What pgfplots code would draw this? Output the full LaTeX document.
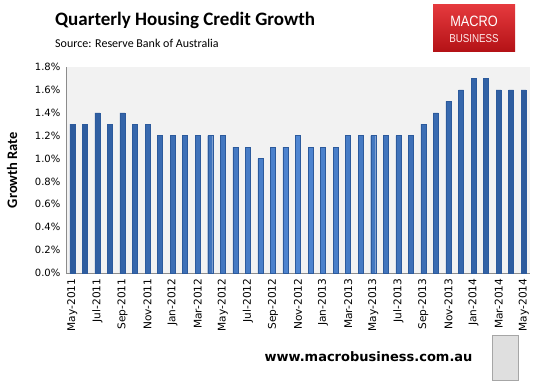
\documentclass[border=0pt]{standalone}
\usepackage{pgfplots}
\pgfplotsset{compat=1.18}
\usepackage{fontspec}
\setmainfont{DejaVu Sans}
\newfontfamily\calfont{Carlito}
\newfontfamily\libfont{Liberation Sans}
\definecolor{barmid}{HTML}{4F86D2}
\definecolor{baredge}{HTML}{2C5A9C}
\definecolor{plotbg}{HTML}{F2F2F2}
\definecolor{axgray}{HTML}{8C8C8C}
\definecolor{mbred}{HTML}{E0161B}
\begin{document}
\begin{tikzpicture}
\path[use as bounding box] (0pt,0pt) rectangle (546pt,383pt);
% title
\node[anchor=base west,font=\calfont\bfseries\fontsize{19}{21}\selectfont,inner sep=0] at (55pt,357pt) {Quarterly Housing Credit Growth};
\node[anchor=base west,font=\calfont\fontsize{12}{13}\selectfont,inner sep=0] at (55pt,335pt) {Source: Reserve Bank of Australia};
% logo
\shade[top color=mbred!85!white, bottom color=mbred!80!black] (433pt,331pt) rectangle (515pt,378pt);
\node[text=white,font=\libfont\fontsize{15}{16}\selectfont,inner sep=0,xscale=0.85] at (474pt,362pt) {MACRO};
\node[text=white!92!red,font=\libfont\fontsize{11.5}{12}\selectfont,inner sep=0,xscale=0.85] at (474pt,344pt) {BUSINESS};
% url
\node[anchor=base,font=\bfseries\fontsize{13}{14}\selectfont,inner sep=0] at (368.5pt,22pt) {www.macrobusiness.com.au};
% wolf placeholder
\draw[gray!70,fill=gray!25] (492pt,3pt) rectangle (518pt,48pt);
\begin{axis}[
  at={(66pt,110pt)}, anchor=south west,
  scale only axis, width=464pt, height=206pt,
  xmin=-0.5, xmax=36.5, ymin=0, ymax=1.8,
  ybar, bar width=5pt,
  axis background/.style={fill=plotbg},
  axis lines=left, axis line style={-, axgray},
  xtick={0,2,...,36},
  xticklabels={May-2011,Jul-2011,Sep-2011,Nov-2011,Jan-2012,Mar-2012,May-2012,Jul-2012,Sep-2012,Nov-2012,Jan-2013,Mar-2013,May-2013,Jul-2013,Sep-2013,Nov-2013,Jan-2014,Mar-2014,May-2014},
  x tick label style={rotate=90, anchor=east, font=\fontsize{10.6}{12}\selectfont},
  major x tick style={draw=none},
  extra x ticks={-0.5,1.5,...,35.5},
  extra x tick labels={},
  extra x tick style={tick style={draw=axgray}, major tick length=3pt, tick align=inside},
  ytick={0,0.2,...,1.8},
  yticklabel={\pgfmathprintnumber[fixed,fixed zerofill,precision=1]{\tick}\%},
  /pgf/number format/assume math mode=true,
  y tick label style={font=\fontsize{10}{12}\selectfont},
  ytick style={draw=none},
  ylabel={\calfont\bfseries\fontsize{14.5}{16}\selectfont Growth Rate},
  ylabel style={at={(-54pt,0.5)}, anchor=center},
  clip=false,
]
\addplot[draw=baredge, left color=baredge, right color=baredge, middle color=barmid, bar shift=0pt] coordinates {
(0,1.3)(1,1.3)(2,1.4)(3,1.3)(4,1.4)(5,1.3)(6,1.3)(7,1.2)(8,1.2)(9,1.2)(10,1.2)(11,1.2)(12,1.2)(13,1.1)(14,1.1)(15,1.0)(16,1.1)(17,1.1)(18,1.2)(19,1.1)(20,1.1)(21,1.1)(22,1.2)(23,1.2)(24,1.2)(25,1.2)(26,1.2)(27,1.2)(28,1.3)(29,1.4)(30,1.5)(31,1.6)(32,1.7)(33,1.7)(34,1.6)(35,1.6)(36,1.6)
};
\end{axis}
\end{tikzpicture}
\end{document}
